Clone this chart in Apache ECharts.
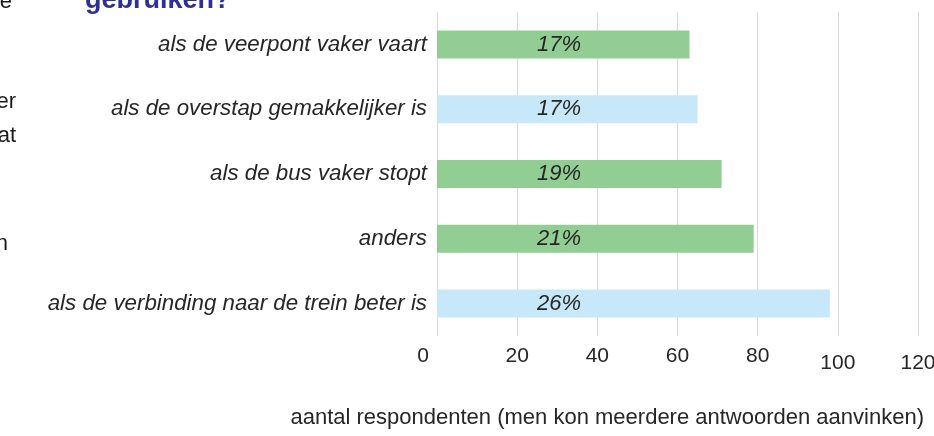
<!DOCTYPE html>
<html>
<head>
<meta charset="utf-8">
<script src="https://cdn.jsdelivr.net/npm/echarts@6/dist/echarts.min.js"></script>
<style>
  html, body { margin: 0; padding: 0; background: #fff; }
  #chart { width: 934px; height: 436px; }
</style>
</head>
<body>
<div id="chart"></div>
<script>
// antwoorden, van boven naar beneden
var categories = [
  'als de veerpont vaker vaart',
  'als de overstap gemakkelijker is',
  'als de bus vaker stopt',
  'anders',
  'als de verbinding naar de trein beter is'
];
var respondenten = [63, 65, 71, 79, 98];
var percentages = ['17%', '17%', '19%', '21%', '26%'];
var barColors = ['#92cd94', '#c6e8f8', '#92cd94', '#92cd94', '#c6e8f8'];
var xTicks = [0, 20, 40, 60, 80, 100, 120];

var font = '"Liberation Sans", Arial, sans-serif';

var chart = echarts.init(document.getElementById('chart'));

var option = {
  animation: false,
  grid: {
    left: 437,
    right: 16,
    top: 12,
    height: 324,
    outerBoundsMode: 'none',
    containLabel: false
  },
  //stukjes tekst van de pagina eromheen
  graphic: [
    { type: 'text', left: 85, top: -13, style: { text: 'gebruiken?', font: 'bold 27px ' + font, fill: '#2e3192' } },
    { type: 'text', right: 922, top: -9, style: { text: 'e', font: '22px ' + font, fill: '#1a1a1a' } },
    { type: 'text', right: 918, top: 91, style: { text: 'er', font: '22px ' + font, fill: '#1a1a1a' } },
    { type: 'text', right: 918, top: 125, style: { text: 'at', font: '22px ' + font, fill: '#1a1a1a' } },
    { type: 'text', right: 926, top: 233, style: { text: 'n', font: '22px ' + font, fill: '#1a1a1a' } }
  ],
  title: {
    text: 'aantal respondenten (men kon meerdere antwoorden aanvinken)',
    right: 5,
    bottom: 2,
    textStyle: { fontFamily: font, fontSize: 22, fontWeight: 'normal', color: '#262626' }
  },
  xAxis: {
    type: 'value',
    min: xTicks[0],
    max: xTicks[xTicks.length - 1],
    interval: 20,
    axisLine: { show: false },
    axisTick: { show: false },
    splitLine: { lineStyle: { color: '#d9d9d9', width: 1 } },
    axisLabel: {
      margin: 10,
      formatter: function (v) {
        if (v === 0) return '{zero|0}';
        if (v >= 100) return '{low|' + v + '}';
        return '{n|' + v + '}';
      },
      rich: {
        n: { fontFamily: font, fontSize: 21, color: '#262626' },
        zero: { fontFamily: font, fontSize: 21, color: '#262626', padding: [0, 28, 0, 0] },
        low: { fontFamily: font, fontSize: 21, color: '#262626', padding: [7, 0, 0, 0] }
      }
    }
  },
  yAxis: {
    type: 'category',
    inverse: true,
    data: categories,
    axisLine: { show: false },
    axisTick: { show: false },
    axisLabel: {
      margin: 10,
      fontFamily: font,
      fontSize: 22.3,
      fontStyle: 'italic',
      color: '#262626'
    }
  },
  series: [{
    name: 'aantal',
    type: 'bar',
    barWidth: 28,
    data: respondenten.map(function (v, i) {
      return { value: v, itemStyle: { color: barColors[i] } };
    }),
    label: {
      show: true,
      position: [100, '50%'],
      verticalAlign: 'middle',
      fontFamily: font,
      fontSize: 22,
      fontStyle: 'italic',
      color: '#262626',
      formatter: function (p) { return percentages[p.dataIndex]; }
    }
  }]
};

chart.setOption(option);
</script>
</body>
</html>
